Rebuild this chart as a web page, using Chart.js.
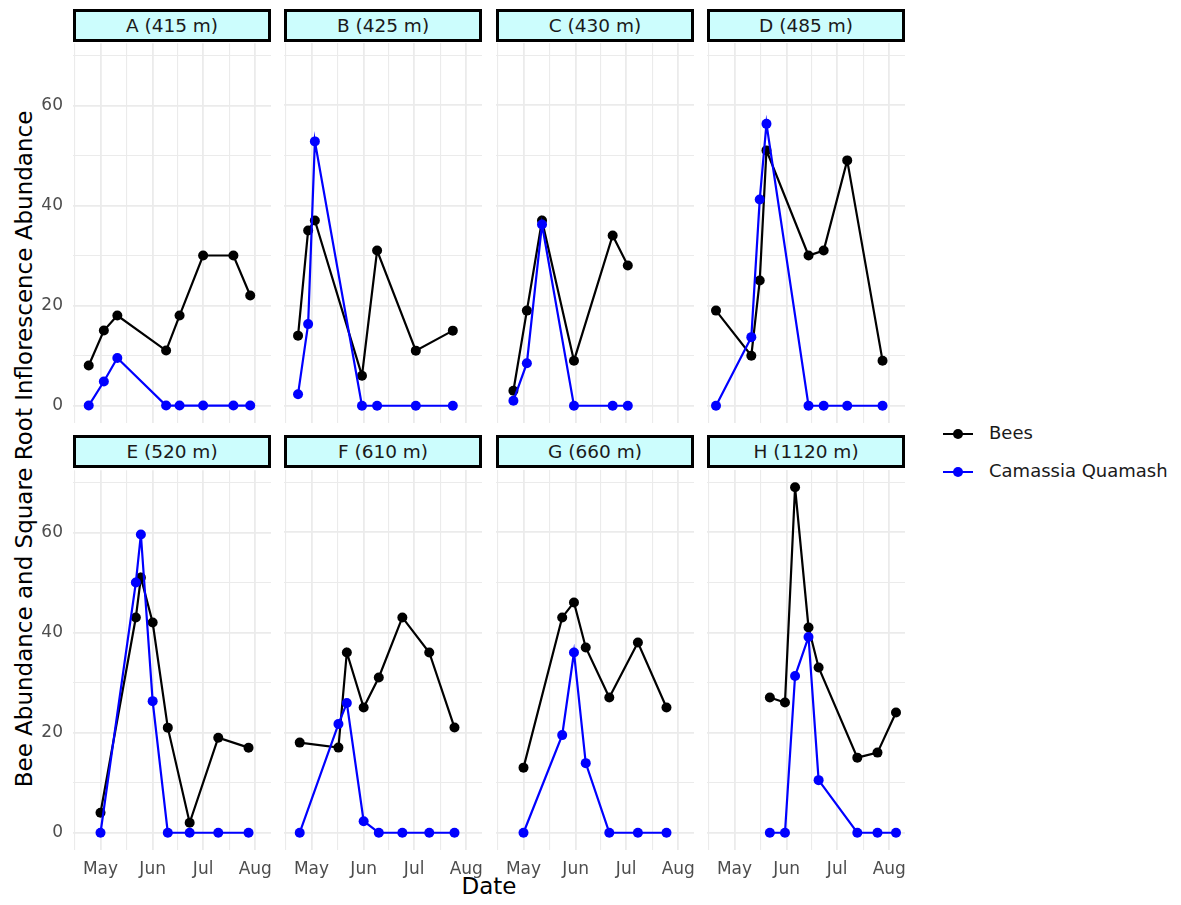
<!DOCTYPE html>
<html>
<head>
<meta charset="utf-8">
<script src="https://cdn.jsdelivr.net/npm/chart.js@4.4.1/dist/chart.umd.min.js"></script>
<style>
  body { margin: 0; background: #fff; font-family: "DejaVu Sans", sans-serif; }
  #fig { position: relative; width: 1181px; height: 905px; overflow: hidden; background: #fff; }
  canvas { position: absolute; }
  .strip {
    position: absolute; box-sizing: border-box; height: 33px;
    border: 3px solid #000; background: #ccfdfd; color: #1a1a1a;
    font-size: 18.5px; display: flex; align-items: center; justify-content: center;
    white-space: nowrap;
  }
  .ytitle {
    position: absolute; left: 24px; top: 449px; width: 800px; margin-left: -400px;
    text-align: center; font-size: 23px; color: #000; line-height: 26px; margin-top: -13px;
    transform: rotate(-90deg); white-space: nowrap;
  }
  .xtitle { position: absolute; left: 389px; width: 200px; top: 873px; text-align: center; font-size: 23px; color: #000; }
  .legend { position: absolute; left: 941px; top: 420px; }
  .legend .row { position: relative; height: 38px; width: 240px; font-size: 18px; color: #1a1a1a; white-space: nowrap; }
  .legend .line { position: absolute; left: 2px; top: 13px; width: 30px; height: 2px; }
  .legend .dot { position: absolute; left: 12px; top: 9px; width: 10px; height: 10px; border-radius: 50%; }
  .legend .txt { position: absolute; left: 48px; top: 2px; }
</style>
</head>
<body>
<div id="fig">
  <div class="ytitle">Bee Abundance and Square Root Inflorescence Abundance</div>
  <div class="xtitle">Date</div>
  <div class="legend">
    <div class="row"><div class="line" style="background:#000"></div><div class="dot" style="background:#000"></div><div class="txt">Bees</div></div>
    <div class="row"><div class="line" style="background:#0000ff"></div><div class="dot" style="background:#0000ff"></div><div class="txt">Camassia Quamash</div></div>
  </div>
</div>
<script>
// sampling dates (month-day) and values per site
const siteLabels = ["A (415 m)", "B (425 m)", "C (430 m)", "D (485 m)",
                    "E (520 m)", "F (610 m)", "G (660 m)", "H (1120 m)"];

const datesA = ["04-24", "05-03", "05-11", "06-09", "06-17", "07-01", "07-19", "07-29"];
const beesA = [8, 15, 18, 11, 18, 30, 30, 22];
const camassiaA = [0, 4.8, 9.5, 0, 0, 0, 0, 0];

const datesB = ["04-23", "04-29", "05-03", "05-31", "06-09", "07-02", "07-24"];
const beesB = [14, 35, 37, 6, 31, 11, 15];
const camassiaB = [2.3, 16.3, 52.8, 0, 0, 0, 0];

const datesC = ["04-25", "05-03", "05-12", "05-31", "06-23", "07-02"];
const beesC = [3, 19, 37, 9, 34, 28];
const camassiaC = [1.0, 8.5, 36.2, 0, 0, 0];

const datesD = ["04-20", "05-11", "05-16", "05-20", "06-14", "06-23", "07-07", "07-28"];
const beesD = [19, 10, 25, 51, 30, 31, 49, 9];
const camassiaD = [0, 13.7, 41.2, 56.3, 0, 0, 0, 0];

const datesE = ["05-01", "05-22", "05-25", "06-01", "06-10", "06-23", "07-10", "07-28"];
const beesE = [4, 43, 51, 42, 21, 2, 19, 17];
const camassiaE = [0, 50, 59.6, 26.3, 0, 0, 0, 0];

const datesF = ["04-24", "05-17", "05-22", "06-01", "06-10", "06-24", "07-10", "07-25"];
const beesF = [18, 17, 36, 25, 31, 43, 36, 21];
const camassiaF = [0, 21.7, 25.9, 2.3, 0, 0, 0, 0];

const datesG = ["05-01", "05-24", "05-31", "06-07", "06-21", "07-08", "07-25"];
const beesG = [13, 43, 46, 37, 27, 38, 25];
const camassiaG = [0, 19.5, 36, 13.9, 0, 0, 0];

const datesH = ["05-22", "05-31", "06-06", "06-14", "06-20", "07-13", "07-25", "08-05"];
const beesH = [27, 26, 69, 41, 33, 15, 16, 24];
const camassiaH = [0, 0, 31.3, 39.1, 10.5, 0, 0, 0];

const monthLabels = ["May", "Jun", "Jul", "Aug"];
const monthStarts = ["05-01", "06-01", "07-01", "08-01"];
const yBreaks = [0, 20, 40, 60];

const siteDates = [datesA, datesB, datesC, datesD, datesE, datesF, datesG, datesH];
const siteBees = [beesA, beesB, beesC, beesD, beesE, beesF, beesG, beesH];
const siteCamassia = [camassiaA, camassiaB, camassiaC, camassiaD, camassiaE, camassiaF, camassiaG, camassiaH];

// days since May 1
function dayOf(md) {
  const [m, d] = md.split("-").map(Number);
  return (Date.UTC(2022, m - 1, d) - Date.UTC(2022, 4, 1)) / 86400000;
}

// shared scales, ggplot style 5% expansion
const allDays = siteDates.flat().map(dayOf);
const allVals = siteBees.flat().concat(siteCamassia.flat());
const dMin = Math.min(...allDays), dMax = Math.max(...allDays);
const vMin = Math.min(...allVals), vMax = Math.max(...allVals);
const xMin = dMin - 0.05 * (dMax - dMin), xMax = dMax + 0.05 * (dMax - dMin);
const yMin = vMin - 0.05 * (vMax - vMin), yMax = vMax + 0.05 * (vMax - vMin);

const majorX = monthStarts.map(dayOf);
const minorX = [majorX[0] - (majorX[1] - majorX[0]) / 2];
for (let i = 0; i < majorX.length - 1; i++) minorX.push((majorX[i] + majorX[i + 1]) / 2);
minorX.push(majorX[majorX.length - 1] + (majorX[majorX.length - 1] - majorX[majorX.length - 2]) / 2);
const xTicks = majorX.concat(minorX).filter(v => v >= xMin && v <= xMax).sort((a, b) => a - b);
const yTicks = [];
for (let v = 0; v <= yMax; v += 10) yTicks.push(v);

const PANEL_W = 198, PANEL_H = 380;
const colLeft = [73, 284, 496, 707];
const rowTop = [43, 470];
const stripTop = [9, 435];
const Y_AXIS_W = 70, PAD_L = 12, PAD_T = 20, PAD_R = 14, X_AXIS_H = 40, PAD_B = 20;

const fig = document.getElementById("fig");

siteLabels.forEach((label, i) => {
  const col = i % 4, row = Math.floor(i / 4);
  const yw = col === 0 ? Y_AXIS_W : 0;
  const padL = col === 0 ? 0 : PAD_L;
  const xh = row === 1 ? X_AXIS_H : 0;
  const padB = row === 0 ? PAD_B : 0;

  const strip = document.createElement("div");
  strip.className = "strip";
  strip.style.left = colLeft[col] + "px";
  strip.style.top = stripTop[row] + "px";
  strip.style.width = PANEL_W + "px";
  strip.textContent = label;
  fig.appendChild(strip);

  const canvas = document.createElement("canvas");
  canvas.width = padL + yw + PANEL_W + PAD_R;
  canvas.height = PAD_T + PANEL_H + xh + padB;
  canvas.style.left = (colLeft[col] - yw - padL) + "px";
  canvas.style.top = (rowTop[row] - PAD_T) + "px";
  fig.appendChild(canvas);

  const days = siteDates[i].map(dayOf);
  const toPts = arr => arr.map((v, k) => ({ x: days[k], y: v }));

  new Chart(canvas.getContext("2d"), {
    type: "line",
    data: {
      datasets: [
        {
          label: "Bees", data: toPts(siteBees[i]), order: 2,
          borderColor: "#000", backgroundColor: "#000", pointBackgroundColor: "#000",
          borderWidth: 2.2, pointRadius: 5, pointBorderWidth: 0, tension: 0, clip: false,
        },
        {
          label: "Camassia Quamash", data: toPts(siteCamassia[i]), order: 1,
          borderColor: "#0000ff", backgroundColor: "#0000ff", pointBackgroundColor: "#0000ff",
          borderWidth: 2.2, pointRadius: 5, pointBorderWidth: 0, tension: 0, clip: false,
        },
      ],
    },
    options: {
      responsive: false,
      animation: false,
      devicePixelRatio: 1,
      layout: { padding: { top: PAD_T, right: PAD_R, bottom: padB, left: padL } },
      plugins: { legend: { display: false }, tooltip: { enabled: false } },
      scales: {
        x: {
          type: "linear", min: xMin, max: xMax, bounds: "data",
          afterBuildTicks: s => { s.ticks = xTicks.map(v => ({ value: v })); },
          afterFit: s => { s.height = xh; },
          border: { display: false },
          grid: {
            drawTicks: false, color: "#ebebeb",
            lineWidth: c => (c.tick && majorX.includes(c.tick.value) ? 1.8 : 1.1),
          },
          ticks: {
            display: row === 1, autoSkip: false, maxRotation: 0, padding: 9,
            color: "#4d4d4d", font: { family: "DejaVu Sans", size: 17 },
            callback: v => { const k = majorX.indexOf(v); return k >= 0 ? monthLabels[k] : ""; },
          },
        },
        y: {
          type: "linear", min: yMin, max: yMax, bounds: "data",
          afterBuildTicks: s => { s.ticks = yTicks.map(v => ({ value: v })); },
          afterFit: s => { s.width = yw; },
          border: { display: false },
          grid: {
            drawTicks: false, color: "#ebebeb",
            lineWidth: c => (c.tick && yBreaks.includes(c.tick.value) ? 1.8 : 1.1),
          },
          ticks: {
            display: col === 0, padding: 10,
            color: "#4d4d4d", font: { family: "DejaVu Sans", size: 17 },
            callback: v => (yBreaks.includes(v) ? String(v) : ""),
          },
        },
      },
    },
  });
});
</script>
</body>
</html>
